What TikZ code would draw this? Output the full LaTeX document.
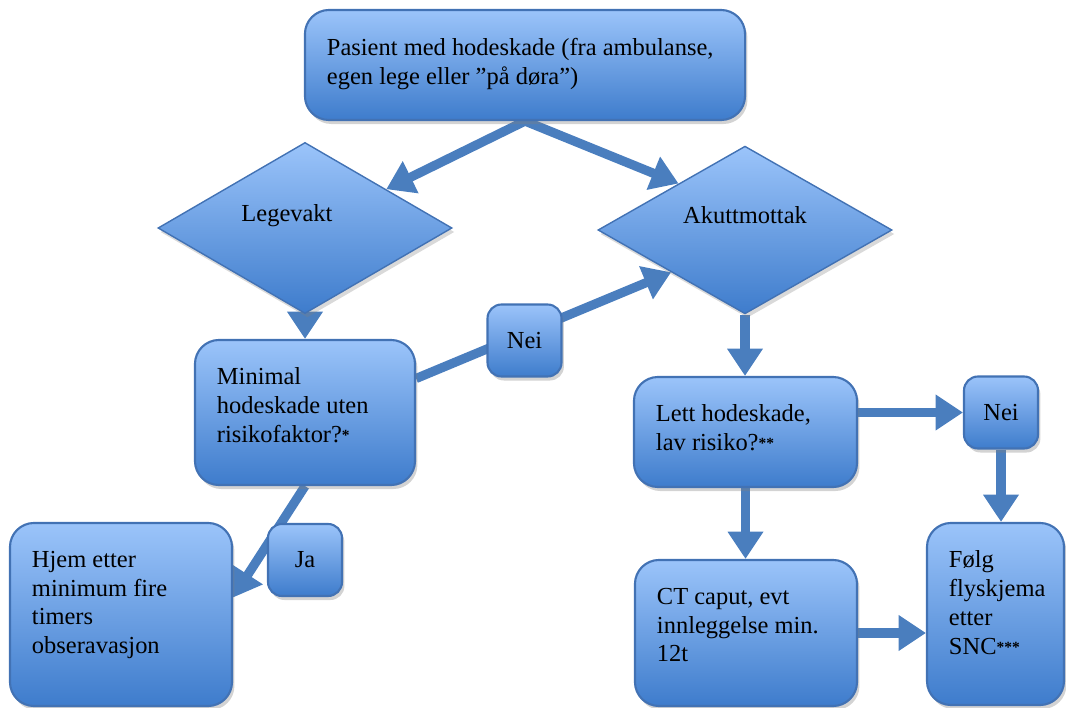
\documentclass[tikz,border=0pt]{standalone}
\usepackage{fontspec}
\setmainfont{Liberation Serif}
\usetikzlibrary{arrows.meta, positioning, shapes.geometric, calc, shadows, backgrounds}
\definecolor{boxtop}{RGB}{155,196,250}
\definecolor{boxbot}{RGB}{62,124,204}
\definecolor{boxline}{RGB}{66,114,180}
\definecolor{arrowblue}{RGB}{74,126,190}
\newcommand{\boxtxt}[3]{\parbox[c][#2][t]{#1}{\raggedright #3}}
\newcommand{\stj}{\raisebox{1.5pt}{\fontsize{11}{11}\selectfont\bfseries *}}

\begin{document}
\begin{tikzpicture}[x=0.025cm, y=-0.025cm,
            font=\fontsize{17.4}{20.5}\selectfont,
            box/.style = {draw=boxline, line width=1.5pt, rounded corners=0.6cm,
                top color=boxtop, bottom color=boxbot,
                drop shadow={opacity=0.35, shadow xshift=0.6mm, shadow yshift=-1mm},
                inner xsep=0.55cm, inner ysep=0.7cm},
            smallbox/.style = {box, rounded corners=0.35cm, inner sep=0pt,
                minimum width=1.85cm, minimum height=1.8cm},
            choice/.style = {diamond, draw=boxline, line width=1pt,
                top color=boxtop, bottom color=boxbot,
                drop shadow={opacity=0.3, shadow xshift=0.6mm, shadow yshift=-1mm},
                inner sep=0pt, minimum width=7.35cm, minimum height=3.55cm,
                text height=0.4cm, text depth=0.7cm},
            flow/.style = {draw=arrowblue, line width=0.23cm,
                -{Triangle[length=0.68cm, width=0.85cm]}}]
            \useasboundingbox (0,0) rectangle (1066,708);
            \node[box] (top) at (525,65)
                {\boxtxt{9.9cm}{1.35cm}{Pasient med hodeskade (fra ambulanse,\\ egen lege eller ”på døra”)}};
            \node[choice] (leg) at (305,228) {Legevakt\hspace*{0.9cm}};
            \node[choice] (akutt) at (745,230) {Akuttmottak};
            \node[box] (minimal) at (305,412.5)
                {\boxtxt{4.4cm}{2.225cm}{Minimal\\ hodeskade uten\\ risikofaktor?\stj}};
            \node[smallbox] (nei1) at (524.5,340.5) {Nei};
            \node[box] (hjem) at (121,614.5)
                {\boxtxt{4.45cm}{3.175cm}{Hjem etter\\ minimum fire\\ timers\\ obseravasjon}};
            \node[smallbox] (ja) at (305,560) {Ja};
            \node[box] (lett) at (745.5,432)
                {\boxtxt{4.475cm}{1.35cm}{Lett hodeskade,\\ lav risiko?\stj\stj}};
            \node[smallbox] (nei2) at (1001,412.5) {Nei};
            \node[box] (ct) at (746,633)
                {\boxtxt{4.45cm}{2.25cm}{CT caput, evt\\ innleggelse min.\\ 12t}};
            \node[box] (folg) at (995.5,614)
                {\boxtxt{2.325cm}{3.15cm}{Følg\\ flyskjema\\ etter\\ SNC\stj\stj\stj}};
            \begin{scope}[on background layer]
                \draw[flow] (top.south) -- ($(leg.north)!0.55!(leg.east)$);
                \draw[flow] (top.south) -- ($(akutt.north)!0.45!(akutt.west)$);
                \draw[flow] (leg.south) -- (leg.south |- minimal.north);
                \draw[flow] ($(minimal.east)+(0,-34)$) -- ($(akutt.west)!0.5!(akutt.south)$);
                \draw[flow] (minimal.south) -- ($(hjem.east)+(0,-17)$);
                \draw[flow] (akutt.south) -- (akutt.south |- lett.north);
                \draw[flow] (nei2.west -| lett.east) -- (nei2.west);
                \draw[flow] (nei2.south) -- (nei2.south |- folg.north);
                \draw[flow] (lett.south) -- (lett.south |- ct.north);
                \draw[flow] (ct.east) -- (ct.east -| folg.west);
            \end{scope}
        \end{tikzpicture}
\end{document}
